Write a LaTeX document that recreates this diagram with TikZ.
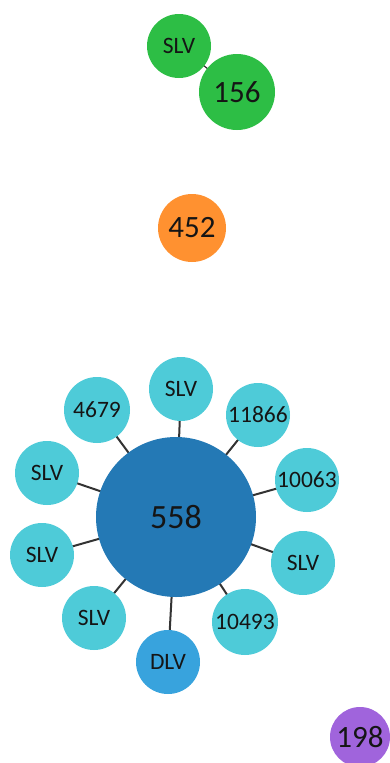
\documentclass[tikz,border=0pt]{standalone}
\usepackage{fontspec}
\setmainfont{Carlito}
\usetikzlibrary{backgrounds}
\definecolor{grn}{HTML}{2DBE45}
\definecolor{org}{HTML}{FF9130}
\definecolor{cyn}{HTML}{4ECBD8}
\definecolor{hub}{HTML}{2479B5}
\definecolor{dlv}{HTML}{38A3DD}
\definecolor{prp}{HTML}{A064DC}
\definecolor{edge}{HTML}{333333}
\definecolor{txt}{HTML}{151515}
\begin{document}
\begin{tikzpicture}[x=1pt,y=-1pt,
  vert/.style={circle,inner sep=0pt,text=txt,minimum size=#1},
  small/.style={font=\fontsize{23.5}{23.5}\selectfont},
  big/.style={font=\fontsize{31}{31}\selectfont},
  huge/.style={font=\fontsize{34}{34}\selectfont},
  link/.style={draw=edge,line width=2pt}]
\useasboundingbox (0,0) rectangle (390,763);
% hub and its leaves
\node[vert=160pt,fill=hub,huge] (h) at (176,517) {558};
\node[vert=64pt,fill=cyn,small] (a1) at (181,389) {SLV};
\node[vert=66pt,fill=cyn,small] (a2) at (97,410) {4679};
\node[vert=64pt,fill=cyn,small] (a3) at (258,415) {11866};
\node[vert=64pt,fill=cyn,small] (a4) at (47,473) {SLV};
\node[vert=64pt,fill=cyn,small] (a5) at (307,480) {10063};
\node[vert=64pt,fill=cyn,small] (a6) at (42,555) {SLV};
\node[vert=64pt,fill=cyn,small] (a7) at (303,563) {SLV};
\node[vert=64pt,fill=cyn,small] (a8) at (94,618) {SLV};
\node[vert=66pt,fill=cyn,small] (a9) at (245,622) {10493};
\node[vert=64pt,fill=dlv,small] (a10) at (168,662) {DLV};
% green pair
\node[vert=76pt,fill=grn,big] (g2) at (237,92) {156};
\node[vert=64pt,fill=grn,small] (g1) at (179,46) {SLV};
% isolated vertices
\node[vert=68pt,fill=org,big] (o) at (192,228) {452};
\node[vert=60pt,fill=prp,big] (p) at (360,737) {198};
% connectors, drawn behind the discs
\begin{scope}[on background layer]
\foreach \n in {a1,a2,a3,a4,a5,a6,a7,a8,a9,a10}
  \draw[link] (h.center) -- (\n.center);
\draw[link,line width=1.2pt] (g1.center) -- (g2.center);
\end{scope}
\end{tikzpicture}
\end{document}
